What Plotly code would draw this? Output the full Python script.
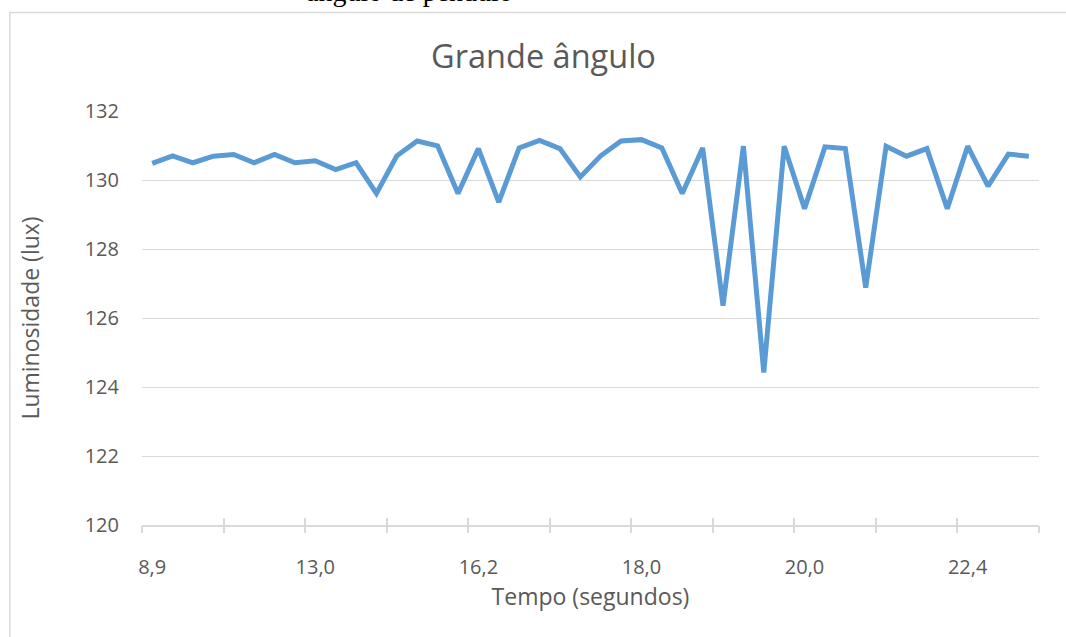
import plotly.graph_objects as go

# Tempo (s) de cada leitura e luminosidade medida (lux)
tempo = [8.9, 9.4, 9.9, 10.4, 10.9, 11.4, 11.9, 12.5, 13.0,
         13.4, 13.8, 14.2, 14.6, 15.0, 15.4, 15.8, 16.2,
         16.4, 16.6, 16.9, 17.1, 17.3, 17.5, 17.8, 18.0,
         18.2, 18.5, 18.7, 19.0, 19.2, 19.5, 19.7, 20.0,
         20.3, 20.6, 20.9, 21.2, 21.5, 21.8, 22.1, 22.4,
         22.7, 23.0, 23.3]
luminosidade = [130.48, 130.70, 130.50, 130.69, 130.74, 130.50, 130.74, 130.50, 130.56, 130.30,
                130.50, 129.61, 130.70, 131.13, 130.99, 129.61, 130.91, 129.36, 130.93, 131.15,
                130.91, 130.09, 130.70, 131.13, 131.17, 130.93, 129.61, 130.93, 126.36, 130.98,
                124.42, 130.98, 129.17, 130.96, 130.91, 126.88, 130.98, 130.69, 130.91, 129.17,
                130.98, 129.82, 130.75, 130.69]
rotulo_a_cada = 8      # categorias entre rótulos do eixo X
marca_a_cada = 4       # categorias entre marcas do eixo X

categorias = [f"{t:.1f}".replace(".", ",") for t in tempo]
rotulos = categorias[::rotulo_a_cada]
n = len(categorias)
fronteiras = [i - 0.5 for i in range(0, n + 1, marca_a_cada)]

FONT = "Open Sans"
CINZA_TXT = "#595959"
CINZA_LINHA = "#d9d9d9"

fig = go.Figure()
fig.add_trace(go.Scatter(
    x=categorias, y=luminosidade, mode="lines",
    line=dict(color="#5B9BD5", width=5),
    showlegend=False, hoverinfo="x+y",
))
# eixos auxiliares só para as marcas que cruzam a linha do eixo X
for ax in ("x2", "x3"):
    fig.add_trace(go.Scatter(x=[None], y=[None], xaxis=ax, yaxis="y",
                             showlegend=False, hoverinfo="skip"))

W, H = 1066, 637
ML, MR, MT, MB = 141.7, 27, 111, 112
pw, ph = W - ML - MR, H - MT - MB

def px_x(v):
    return (v - ML) / pw

def px_y(v):
    return 1 + (MT - v) / ph

tick_axis = dict(range=[-0.5, n - 0.5], overlaying="x", anchor="y",
                 tickmode="array", tickvals=fronteiras, showticklabels=False,
                 showgrid=False, zeroline=False, showline=False,
                 tickcolor=CINZA_LINHA, tickwidth=1.5, ticklen=7)

fig.update_layout(
    width=W, height=H,
    margin=dict(l=ML, r=MR, t=MT, b=MB, pad=0),
    paper_bgcolor="white", plot_bgcolor="white",
    font=dict(family=FONT, color=CINZA_TXT),
    title=dict(text="Grande ângulo", x=543.5 / W, xanchor="center", xref="container",
               y=1 - 57 / H, yanchor="middle", yref="container",
               font=dict(family=FONT, size=32.5, color=CINZA_TXT)),
    xaxis=dict(type="category", range=[-0.5, n - 0.5],
               tickmode="array", tickvals=rotulos, ticktext=rotulos,
               ticks="", ticklabelstandoff=23,
               tickfont=dict(size=20, color=CINZA_TXT),
               showgrid=False, zeroline=False,
               showline=True, linecolor=CINZA_LINHA, linewidth=1.5,
               title=dict(text="Tempo (segundos)", standoff=10,
                          font=dict(size=23, color=CINZA_TXT))),
    xaxis2=dict(ticks="outside", **tick_axis),
    xaxis3=dict(ticks="inside", **tick_axis),
    yaxis=dict(range=[120, 132], dtick=2, tick0=120,
               showgrid=True, gridcolor=CINZA_LINHA, gridwidth=1.3,
               zeroline=False, showline=False, ticks="",
               ticklabelstandoff=22,
               tickfont=dict(size=20, color=CINZA_TXT),
               title=dict(text="Luminosidade (lux)", standoff=38,
                          font=dict(size=23, color=CINZA_TXT))),
    shapes=[dict(type="rect", xref="paper", yref="paper",
                 x0=px_x(9.5), x1=px_x(W + 10), y0=px_y(H + 10), y1=px_y(12.5),
                 line=dict(color=CINZA_LINHA, width=1.5), fillcolor="rgba(0,0,0,0)",
                 layer="below")],
    annotations=[dict(text="ângulo de pêndulo", xref="paper", yref="paper",
                      x=px_x(304), y=px_y(9), xanchor="left", yanchor="bottom",
                      showarrow=False,
                      font=dict(family="Liberation Serif", size=28, color="black"))],
)

fig.write_html("out.html")
